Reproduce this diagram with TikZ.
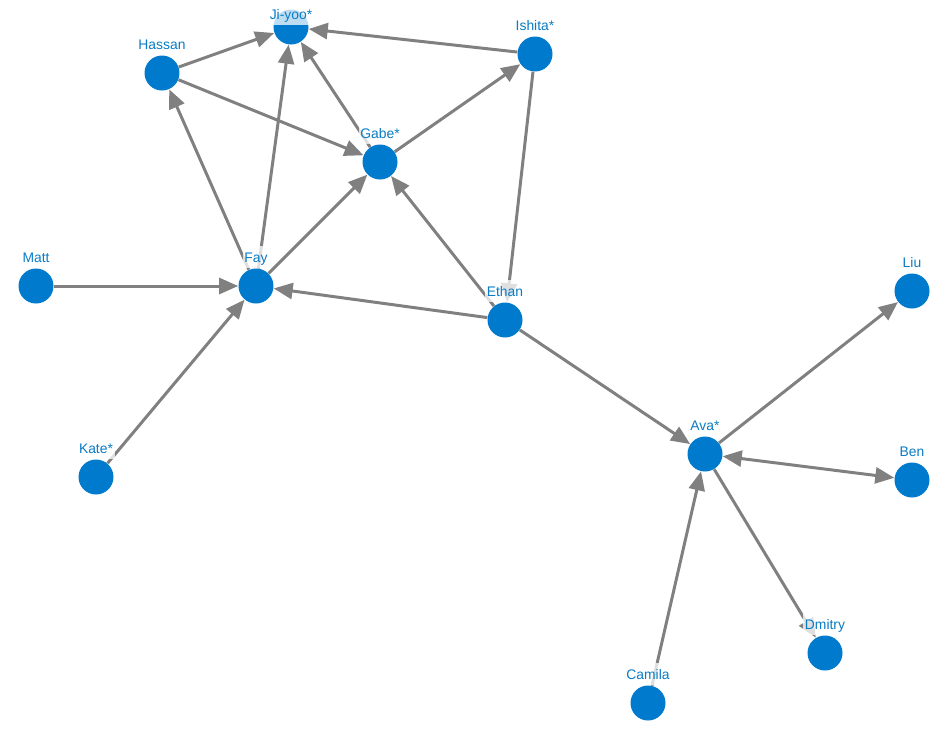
\documentclass[tikz,border=0pt]{standalone}
\usepackage{fontspec}
\setmainfont{Liberation Sans}
\usepackage{tikz}
\usetikzlibrary{arrows.meta, positioning}
\definecolor{nodeblue}{HTML}{007ACC}
\definecolor{textblue}{HTML}{0A7CC4}
\definecolor{linkgray}{HTML}{808080}

\begin{document}
\begin{tikzpicture}[
    x=0.02cm, y=-0.02cm,
    node distance=0cm,
    every node/.style={font=\fontsize{7.9}{9}\selectfont},
    person/.style={circle, fill=nodeblue, minimum size=0.7cm, inner sep=0pt},
    nametag/.style={fill=white, fill opacity=0.75, text opacity=1, text=textblue, inner sep=1pt, text height=1.6ex, text depth=0.4ex},
    link/.style={draw=linkgray, line width=1.7pt},
    >={Triangle[length=0.38cm, width=0.32cm]},
]
\useasboundingbox (0,0) rectangle (950,728);

\node[person] (jiyoo)  at (291,27)  {};
\node[person] (ishita) at (535,54)  {};
\node[person] (hassan) at (162,73)  {};
\node[person] (gabe)   at (380,162) {};
\node[person] (matt)   at (36,286)  {};
\node[person] (fay)    at (256,286) {};
\node[person] (ethan)  at (505,320) {};
\node[person] (liu)    at (912,291) {};
\node[person] (kate)   at (96,477)  {};
\node[person] (ava)    at (705,454) {};
\node[person] (ben)    at (912,480) {};
\node[person] (dmitry) at (825,653) {};
\node[person] (camila) at (648,703) {};

\draw[link, ->] (hassan) -- (jiyoo);
\draw[link, ->] (hassan) -- (gabe);
\draw[link, ->] (fay) -- (hassan);
\draw[link, ->] (fay) -- (jiyoo);
\draw[link, ->] (fay) -- (gabe);
\draw[link, ->] (gabe) -- (jiyoo);
\draw[link, ->] (gabe) -- (ishita);
\draw[link, ->] (ishita) -- (jiyoo);
\draw[link, ->] (ishita) -- (ethan);
\draw[link, ->] (ethan) -- (gabe);
\draw[link, ->] (ethan) -- (fay);
\draw[link, ->] (matt) -- (fay);
\draw[link, ->] (kate) -- (fay);
\draw[link, ->] (ethan) -- (ava);
\draw[link, ->] (ava) -- (liu);
\draw[link, <->] (ava) -- (ben);
\draw[link, ->] (camila) -- (ava);
\draw[link, ->] (ava) -- (dmitry);

\node[nametag, above=-0.32cm of jiyoo] (jiyoo-l) {Ji-yoo*};
\node[nametag, above=of ishita] (ishita-l) {Ishita*};
\node[nametag, above=of hassan] (hassan-l) {Hassan};
\node[nametag, above=of gabe] (gabe-l) {Gabe*};
\node[nametag, above=of matt] (matt-l) {Matt};
\node[nametag, above=of fay] (fay-l) {Fay};
\node[nametag, above=of ethan] (ethan-l) {Ethan};
\node[nametag, above=of liu] (liu-l) {Liu};
\node[nametag, above=of kate] (kate-l) {Kate*};
\node[nametag, above=of ava] (ava-l) {Ava*};
\node[nametag, above=of ben] (ben-l) {Ben};
\node[nametag, above=of dmitry] (dmitry-l) {Dmitry};
\node[nametag, above=of camila] (camila-l) {Camila};
\end{tikzpicture}
\end{document}
